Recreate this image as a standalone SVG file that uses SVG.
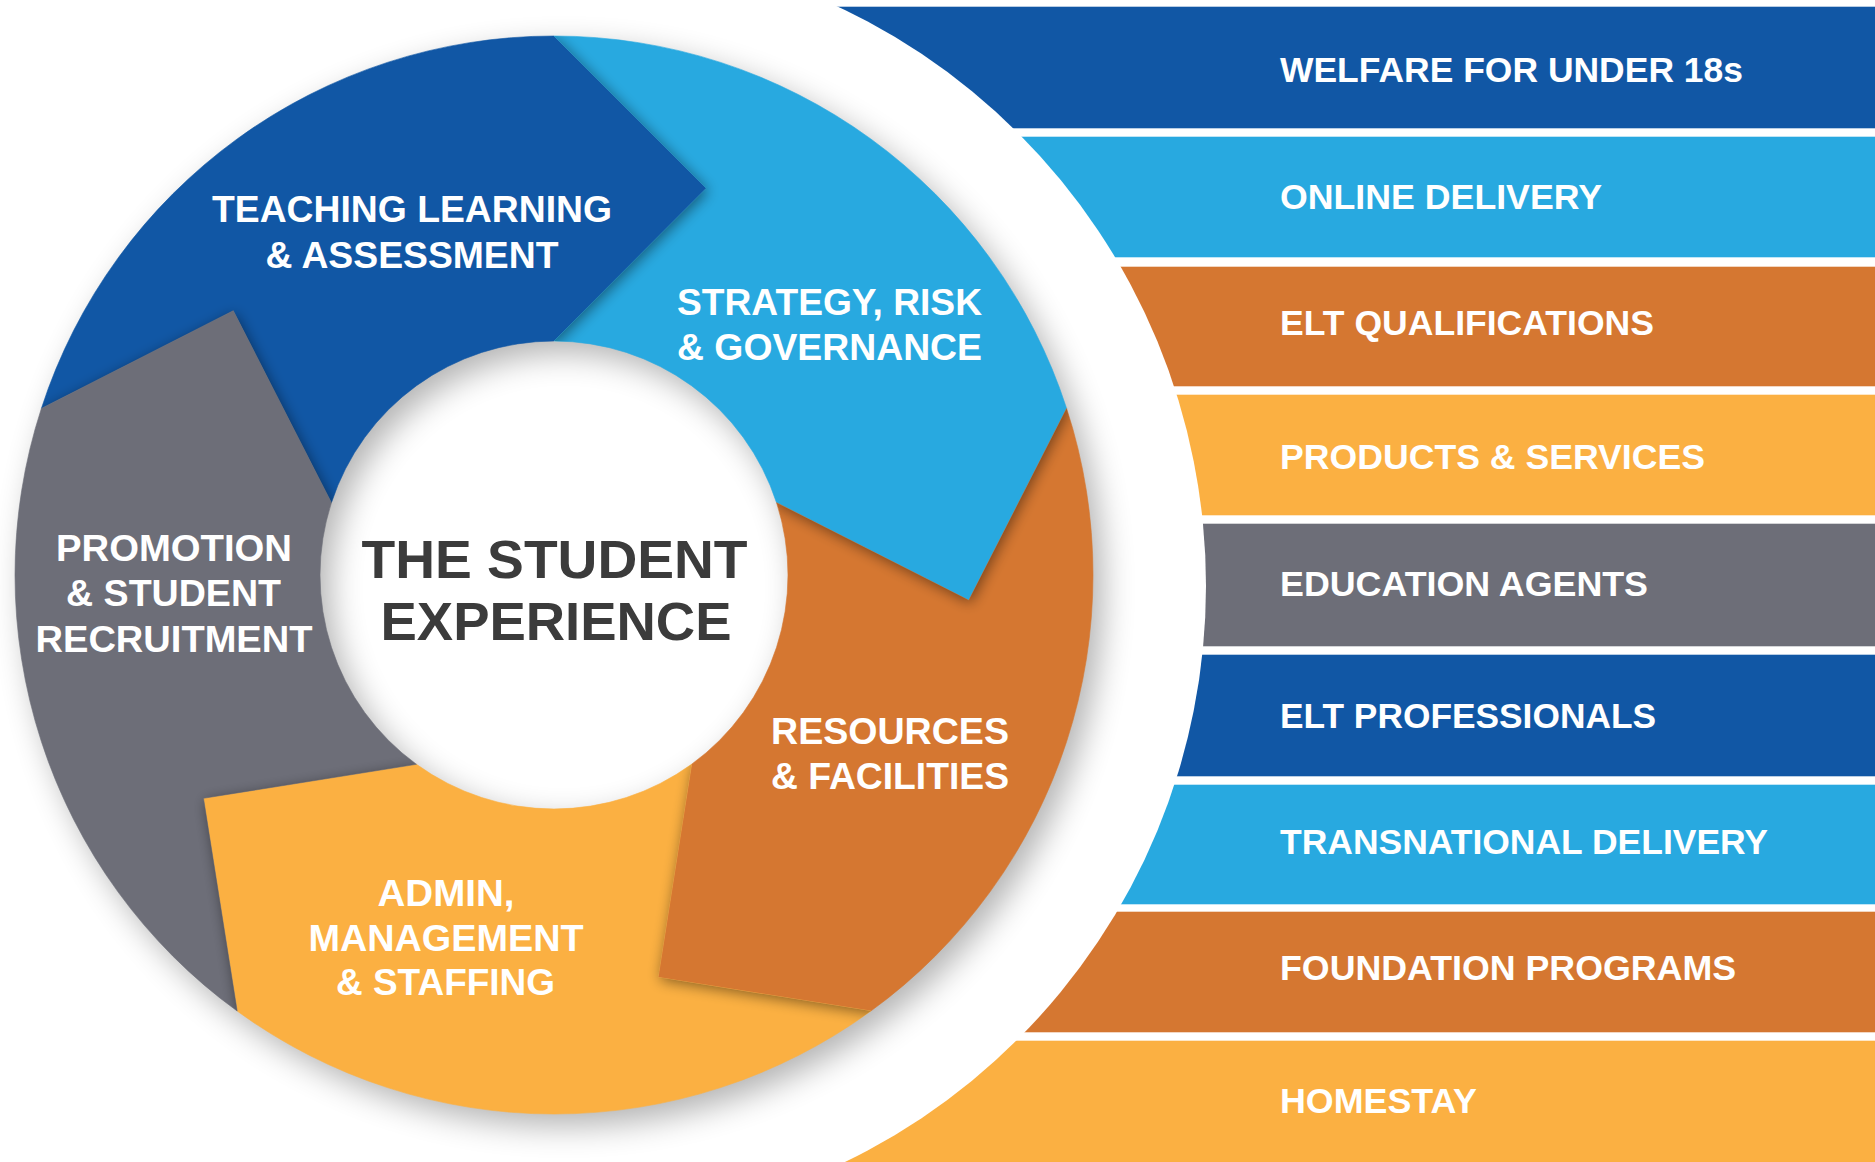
<svg xmlns="http://www.w3.org/2000/svg" xmlns:xlink="http://www.w3.org/1999/xlink" width="1875" height="1162" viewBox="0 0 1875 1162">
<style>
.lbl{font-family:"Liberation Sans",Arial,sans-serif;font-weight:bold;fill:#ffffff;font-size:35px}
.seg{font-family:"Liberation Sans",Arial,sans-serif;font-weight:bold;fill:#ffffff;font-size:36px;text-anchor:middle}
.ctr{font-family:"Liberation Sans",Arial,sans-serif;font-weight:bold;fill:#3b3b3b;font-size:54px;text-anchor:middle}
.blue{fill:#1157a5;stroke:#1157a5;stroke-width:0.6}
.light{fill:#28a9e0;stroke:#28a9e0;stroke-width:0.6}
.orange{fill:#d57731;stroke:#d57731;stroke-width:0.6}
.yellow{fill:#fbb042;stroke:#fbb042;stroke-width:0.6}
.grey{fill:#6d6e78;stroke:#6d6e78;stroke-width:0.6}
</style>
<defs>
<filter id="ds" x="-20%" y="-20%" width="150%" height="150%">
<feGaussianBlur in="SourceAlpha" stdDeviation="16"/>
<feOffset dx="10" dy="12"/>
<feComponentTransfer><feFuncA type="linear" slope="0.3"/></feComponentTransfer>
</filter>
<filter id="hs" x="-20%" y="-20%" width="140%" height="140%">
<feGaussianBlur in="SourceAlpha" stdDeviation="7"/>
<feOffset dx="2" dy="3"/>
<feComponentTransfer><feFuncA type="linear" slope="0.45"/></feComponentTransfer>
</filter>
<path id="p-tla" d="M 41.38 408.44 A 539 539 0 0 1 554 36 L 706.32 188.32 L 554 341 A 234 234 0 0 0 331.45 502.69 L 233.31 310.65 Z"/>
<path id="p-srg" d="M 554 36 A 539 539 0 0 1 1066.62 408.44 L 968.82 600.37 L 776.55 502.69 A 234 234 0 0 0 554 341 L 706.32 188.32 Z"/>
<path id="p-rf" d="M 1066.62 408.44 A 539 539 0 0 1 870.82 1011.06 L 658.06 977.36 L 691.54 764.31 A 234 234 0 0 0 776.55 502.69 L 968.82 600.37 Z"/>
<path id="p-ams" d="M 870.82 1011.06 A 539 539 0 0 1 237.18 1011.06 L 203.49 798.3 L 416.46 764.31 A 234 234 0 0 0 691.54 764.31 L 658.06 977.36 Z"/>
<path id="p-psr" d="M 237.18 1011.06 A 539 539 0 0 1 41.38 408.44 L 233.31 310.65 L 331.45 502.69 A 234 234 0 0 0 416.46 764.31 L 203.49 798.3 Z"/>
<clipPath id="c-tla"><use xlink:href="#p-tla"/></clipPath>
<clipPath id="c-srg"><use xlink:href="#p-srg"/></clipPath>
<clipPath id="c-rf"><use xlink:href="#p-rf"/></clipPath>
<clipPath id="c-ams"><use xlink:href="#p-ams"/></clipPath>
<clipPath id="c-psr"><use xlink:href="#p-psr"/></clipPath>
</defs>
<rect x="0" y="0" width="1875" height="1162" fill="#ffffff"/>

<g id="stripes">
<g id="s-welfare"><rect class="blue" x="700" y="7" width="1175" height="121"/><text class="lbl" x="1280" y="82" textLength="463" lengthAdjust="spacingAndGlyphs">WELFARE FOR UNDER 18s</text></g>
<g id="s-online"><rect class="light" x="700" y="137" width="1175" height="120"/><text class="lbl" x="1280" y="208.5" textLength="322" lengthAdjust="spacingAndGlyphs">ONLINE DELIVERY</text></g>
<g id="s-eltq"><rect class="orange" x="700" y="267" width="1175" height="119"/><text class="lbl" x="1280" y="335" textLength="374" lengthAdjust="spacingAndGlyphs">ELT QUALIFICATIONS</text></g>
<g id="s-products"><rect class="yellow" x="700" y="395" width="1175" height="120"/><text class="lbl" x="1280" y="469" textLength="425" lengthAdjust="spacingAndGlyphs">PRODUCTS &amp; SERVICES</text></g>
<g id="s-agents"><rect class="grey" x="700" y="524" width="1175" height="122"/><text class="lbl" x="1280" y="596" textLength="368" lengthAdjust="spacingAndGlyphs">EDUCATION AGENTS</text></g>
<g id="s-eltp"><rect class="blue" x="700" y="655" width="1175" height="121"/><text class="lbl" x="1280" y="728" textLength="376" lengthAdjust="spacingAndGlyphs">ELT PROFESSIONALS</text></g>
<g id="s-trans"><rect class="light" x="700" y="785" width="1175" height="119"/><text class="lbl" x="1280" y="854" textLength="488" lengthAdjust="spacingAndGlyphs">TRANSNATIONAL DELIVERY</text></g>
<g id="s-found"><rect class="orange" x="700" y="912" width="1175" height="120"/><text class="lbl" x="1280" y="980" textLength="456" lengthAdjust="spacingAndGlyphs">FOUNDATION PROGRAMS</text></g>
<g id="s-home"><rect class="yellow" x="700" y="1041" width="1175" height="121"/><text class="lbl" x="1280" y="1113" textLength="197" lengthAdjust="spacingAndGlyphs">HOMESTAY</text></g>
</g>

<circle cx="566" cy="586" r="640" fill="#ffffff"/>

<path d="M 1093 575 A 539 539 0 1 1 15 575 A 539 539 0 1 1 1093 575 Z M 788 575 A 234 234 0 1 0 320 575 A 234 234 0 1 0 788 575 Z" fill-rule="evenodd" fill="#000" filter="url(#ds)"/>

<g id="n-tla">
<use xlink:href="#p-tla" class="blue"/>
<g clip-path="url(#c-tla)"><use xlink:href="#p-psr" fill="#000" filter="url(#hs)"/></g>
</g>
<g id="n-srg">
<use xlink:href="#p-srg" class="light"/>
<g clip-path="url(#c-srg)"><use xlink:href="#p-tla" fill="#000" filter="url(#hs)"/></g>
</g>
<g id="n-rf">
<use xlink:href="#p-rf" class="orange"/>
<g clip-path="url(#c-rf)"><use xlink:href="#p-srg" fill="#000" filter="url(#hs)"/></g>
</g>
<g id="n-ams">
<use xlink:href="#p-ams" class="yellow"/>
<g clip-path="url(#c-ams)"><use xlink:href="#p-rf" fill="#000" filter="url(#hs)"/></g>
</g>
<g id="n-psr">
<use xlink:href="#p-psr" class="grey"/>
<g clip-path="url(#c-psr)"><use xlink:href="#p-ams" fill="#000" filter="url(#hs)"/></g>
</g>

<g id="labels">
<text class="seg" x="412" y="222" textLength="400" lengthAdjust="spacingAndGlyphs">TEACHING LEARNING</text>
<text class="seg" x="412" y="268" textLength="293" lengthAdjust="spacingAndGlyphs">&amp; ASSESSMENT</text>
<text class="seg" x="829.5" y="315" textLength="305" lengthAdjust="spacingAndGlyphs">STRATEGY, RISK</text>
<text class="seg" x="829.5" y="360" textLength="305" lengthAdjust="spacingAndGlyphs">&amp; GOVERNANCE</text>
<text class="seg" x="890" y="743.5" textLength="238" lengthAdjust="spacingAndGlyphs">RESOURCES</text>
<text class="seg" x="890" y="789" textLength="238" lengthAdjust="spacingAndGlyphs">&amp; FACILITIES</text>
<text class="seg" x="446" y="905.5" textLength="137" lengthAdjust="spacingAndGlyphs">ADMIN,</text>
<text class="seg" x="446" y="951" textLength="275" lengthAdjust="spacingAndGlyphs">MANAGEMENT</text>
<text class="seg" x="445.5" y="995" textLength="219" lengthAdjust="spacingAndGlyphs">&amp; STAFFING</text>
<text class="seg" x="174" y="561" textLength="236" lengthAdjust="spacingAndGlyphs">PROMOTION</text>
<text class="seg" x="173.5" y="606" textLength="215" lengthAdjust="spacingAndGlyphs">&amp; STUDENT</text>
<text class="seg" x="174" y="652" textLength="277" lengthAdjust="spacingAndGlyphs">RECRUITMENT</text>
</g>

<g id="n-center">
<text class="ctr" x="554.5" y="578" textLength="386" lengthAdjust="spacingAndGlyphs">THE STUDENT</text>
<text class="ctr" x="556" y="640" textLength="351" lengthAdjust="spacingAndGlyphs">EXPERIENCE</text>
</g>

<g id="connectors"></g>
</svg>
